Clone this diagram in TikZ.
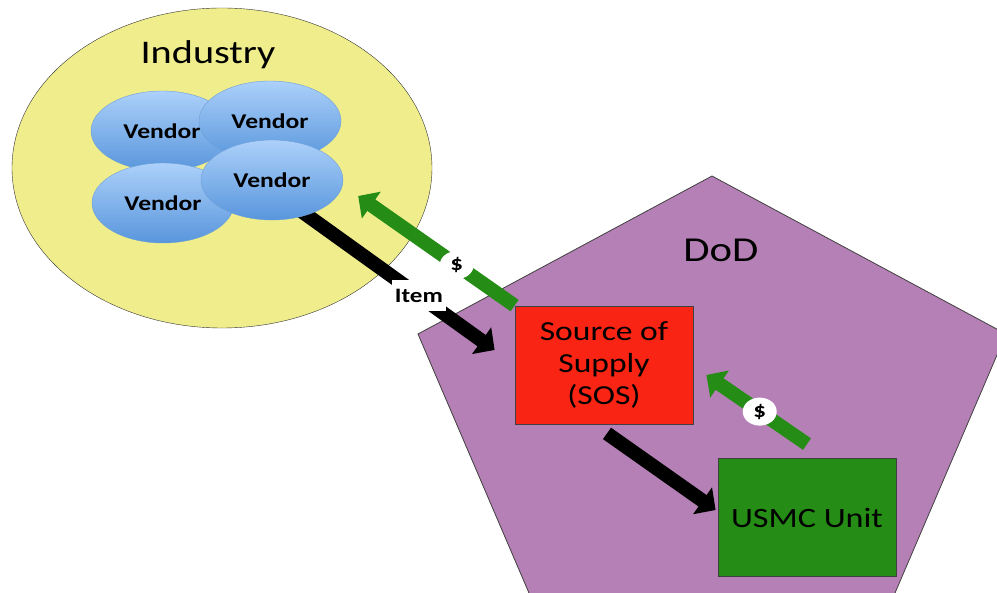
\documentclass[tikz,border=0pt]{standalone}
\usepackage{fontspec}
\setmainfont[FakeStretch=1.22]{Carlito}
\usepackage{xcolor}
\usetikzlibrary{positioning}
\usetikzlibrary{shapes.geometric}
\usetikzlibrary{arrows.meta}
\pgfdeclarelayer{back}
\pgfdeclarelayer{flow}
\pgfsetlayers{back,flow,main}
\definecolor{industryyellow}{RGB}{240,238,140}
\definecolor{vendortop}{RGB}{172,208,250}
\definecolor{vendorbottom}{RGB}{88,150,220}
\definecolor{vendorline}{RGB}{110,160,215}
\definecolor{dodpurple}{RGB}{181,128,181}
\definecolor{sosred}{RGB}{250,36,20}
\definecolor{unitgreen}{RGB}{37,140,22}
\tikzstyle{industry}=[ellipse, draw=black!80, fill=industryyellow, minimum width=420pt, minimum height=320pt, inner sep=0pt]
\tikzstyle{vendor}=[ellipse, draw=vendorline, top color=vendortop, bottom color=vendorbottom, minimum width=142pt, minimum height=80pt, inner sep=0pt, font=\fontsize{21}{25}\selectfont\bfseries]
\tikzstyle{dod}=[fill=dodpurple, draw=black!75, line width=0.8pt]
\tikzstyle{box}=[rectangle, draw=black!75, line width=0.8pt, minimum width=178pt, minimum height=118pt, align=center]
\tikzstyle{goods}=[-{Triangle[width=32pt,length=16pt]}, draw=black, line width=14pt]
\tikzstyle{cash}=[-{Triangle[width=32pt,length=16pt]}, draw=unitgreen, line width=14pt]
\tikzstyle{tag}=[fill=white, inner xsep=3pt, inner ysep=9pt, font=\fontsize{20.5}{24}\selectfont\bfseries]
\tikzstyle{coin}=[ellipse, fill=white, minimum width=34pt, minimum height=28pt, inner sep=0pt, font=\fontsize{20.5}{24}\selectfont\bfseries]

\begin{document}
\begin{tikzpicture}[x=1pt, y=-1pt]
    \useasboundingbox (0,0) rectangle (997,593);

    \begin{pgfonlayer}{back}
      \clip (0,0) rectangle (997,593);
      \node[industry] (industry) at (222,168) {};
      \node[font=\fontsize{33}{40}\selectfont] (industrylabel) at (208,55) {Industry};
      \draw[dod] (712,176) -- (1006,334) -- (892,600) -- (532,600) -- (418,334) -- cycle;
      \node[font=\fontsize{35}{42}\selectfont] (dodlabel) at (721,250) {DoD};
    \end{pgfonlayer}

    \node[vendor] (vendor1) at (162,131) {Vendor};
    \node[vendor] (vendor2) at (270,121) {Vendor};
    \node[vendor] (vendor4) at (163,203) {Vendor};
    \node[vendor] (vendor3) at (272,180) {Vendor};
    \node[box, fill=sosred, font=\fontsize{27.5}{32}\selectfont] (sos) at (604,365) {Source of\\Supply\\(SOS)};
    \node[box, fill=unitgreen, font=\fontsize{28}{34}\selectfont] (usmc) at (807,517.5) {USMC Unit};

    \begin{pgfonlayer}{flow}
      \draw[goods] ([shift={(18,23)}]vendor3.center) -- node[tag, pos=0.63] {Item} ([shift={(-20,-15)}]sos.west);
      \draw[cash] (sos.north west) -- node[coin, pos=0.37] {\$} ([shift={(15,16)}]vendor3.east);
      \draw[goods] ([shift={(3,9)}]sos.south) -- ([shift={(-2,-7.5)}]usmc.west);
      \draw[cash] ([yshift=14pt]usmc.north) -- node[coin, pos=0.47] {\$} ([shift={(13,10)}]sos.east);
    \end{pgfonlayer}
  \end{tikzpicture}
\end{document}
